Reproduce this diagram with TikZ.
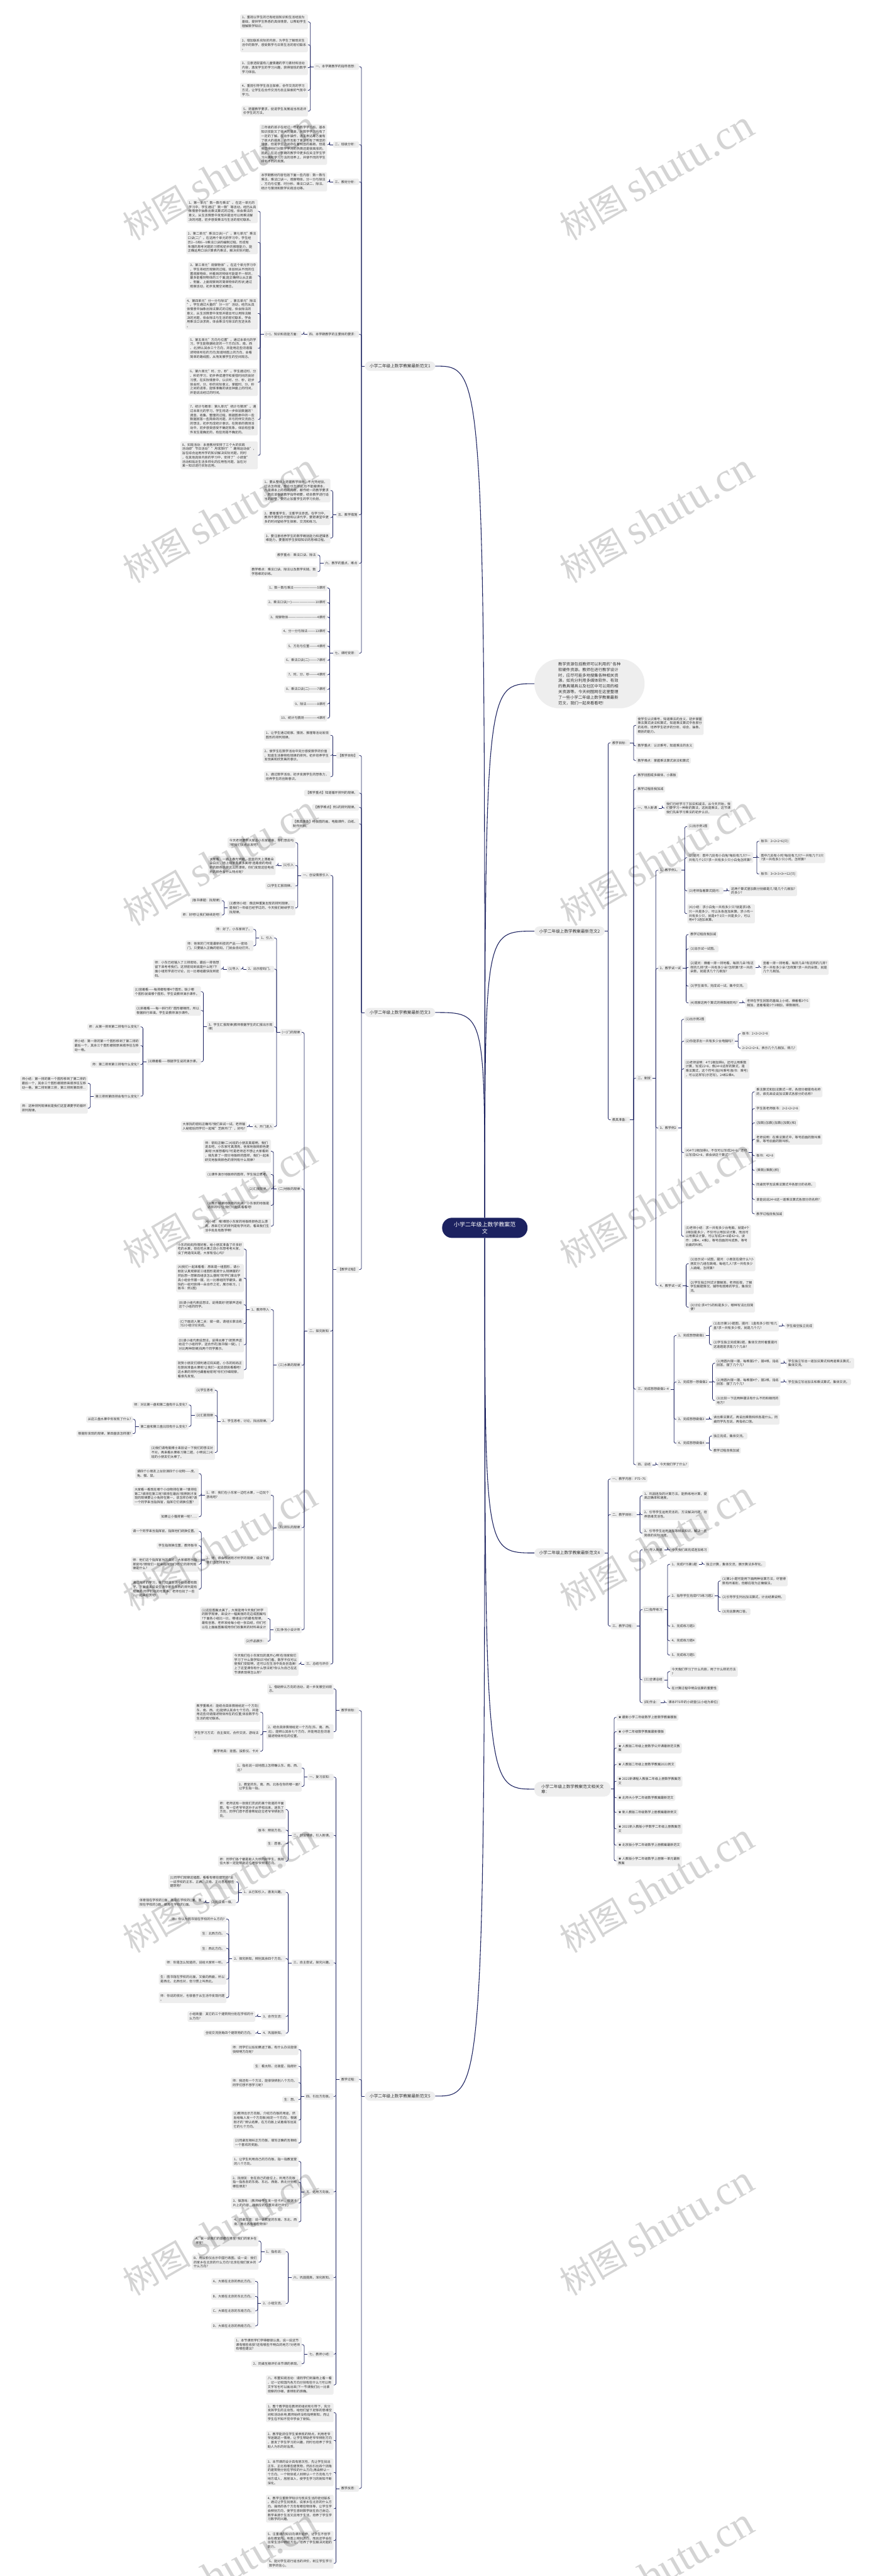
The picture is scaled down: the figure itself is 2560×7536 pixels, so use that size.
\documentclass[tikz,border=0pt]{standalone}
\usepackage{fontspec}
\setmainfont{Noto Sans CJK SC}
\newfontfamily\wmlat{Liberation Serif}
\usetikzlibrary{calc}
\definecolor{navy}{HTML}{1C2260}
\definecolor{boxg}{HTML}{EEEEEE}
\definecolor{txt}{HTML}{333333}
\newcommand{\nf}{\fontsize{9.4}{12.45}\selectfont}
\newcommand{\lf}{\fontsize{12.2}{16}\selectfont}
\tikzset{
 box/.style={rectangle,rounded corners=3.5pt,fill=boxg,text=txt,inner xsep=5pt,inner ysep=5pt,align=left,font=\nf},
 lvl/.style={rectangle,rounded corners=14pt,fill=boxg,text=txt,inner xsep=14pt,inner ysep=8pt,align=left,font=\lf},
 intro/.style={rectangle,rounded corners=72pt,fill=boxg,text=txt,inner xsep=70pt,inner ysep=8pt,minimum height=144pt,align=left,font=\fontsize{11.7}{16.4}\selectfont},
 rootn/.style={rectangle,rounded corners=29pt,fill=navy,text=white,minimum width=250pt,minimum height=59pt,align=center,font=\fontsize{16.4}{21.3}\selectfont},
 conn/.style={draw=navy,line width=1.4pt,rounded corners=5pt},
 rootc/.style={draw=navy,line width=2pt},
 wm/.style={rotate=30,text=black,opacity=0.17,inner sep=0pt}
}
\newcommand{\LN}[4]{%
 \path (#2.west) ++(-17pt,0pt) coordinate (p#1);
 \coordinate (q#1) at (0,#3);
 \node[box,anchor=east] (#1) at (p#1 |- q#1) {#4};}
\newcommand{\RN}[4]{%
 \path (#2.east) ++(17pt,0pt) coordinate (p#1);
 \coordinate (q#1) at (0,#3);
 \node[box,anchor=west] (#1) at (p#1 |- q#1) {#4};}
\newcommand{\LB}[2]{%
 \draw[conn] (#1.west) -- ++(-10pt,0pt) coordinate (b#1);
 \foreach \ch in {#2}{\draw[conn] (b#1) |- (\ch.east);}}
\newcommand{\RB}[2]{%
 \draw[conn] (#1.east) -- ++(10pt,0pt) coordinate (b#1);
 \foreach \ch in {#2}{\draw[conn] (b#1) |- (\ch.west);}}
\begin{document}
\begin{tikzpicture}[x=1pt,y=-1pt]
\fill[white] (0,0) rectangle (2560,7536);
\useasboundingbox (0,0) rectangle (2560,7536);

% root and first level
\node[rootn] (C) at (1419,3592) {小学二年级上数学教案范\\文};
\node[lvl,anchor=west] (L1) at (1068,1071) {小学二年级上数学教案最新范文1};
\node[lvl,anchor=west] (L2) at (1068,2962) {小学二年级上数学教案最新范文3};
\node[lvl,anchor=west] (L3) at (1068,6132) {小学二年级上数学教案最新范文5};
\node[intro,anchor=west] (R0) at (1564,2000) {教学资源包括教师可以利用的ˋ各种\\软硬件资源。教师在进行教学设计\\时，应尽可能多地搜集各种相关资\\源。如充分利用多媒体软件、有效\\的教具辅具以及社区中可以用的相\\关资源等。今天树图网在这里整理\\了一些小学二年级上数学教案最新\\范文，我们一起来看看吧!};
\node[lvl,anchor=west] (R1) at (1564,2724) {小学二年级上数学教案最新范文2};
\node[lvl,anchor=west] (R2) at (1564,4543) {小学二年级上数学教案最新范文4};
\node[lvl,anchor=west,rounded corners=18pt,inner xsep=20pt] (R3) at (1564,5234) {小学二年级上数学教案范文相关文\\章：};

\draw[rootc] (C.north) .. controls (C.north |- L1.east) .. (L1.east);
\draw[rootc] (C.north) .. controls (C.north |- R0.west) .. (R0.west);
\draw[rootc] (C.north) .. controls (C.north |- R1.west) .. (R1.west);
\draw[rootc] (C.north) .. controls (C.north |- L2.east) .. (L2.east);
\draw[rootc] (C.south) .. controls (C.south |- R2.west) .. (R2.west);
\draw[rootc] (C.south) .. controls (C.south |- R3.west) .. (R3.west);
\draw[rootc] (C.south) .. controls (C.south |- L3.east) .. (L3.east);

% ================= L1 =================
\LN{a1}{L1}{195}{一、本学期教学的指导思想：}
\LN{a11}{a1}{64}{1、重视以学生的已有经验知识和生活经验为\\基础，提供学生熟悉的具体情景，以帮助学生\\理解数学知识。}
\LN{a12}{a1}{131}{2、增加联系实际的内容，为学生了解现实生\\活中的数学，感受数学与日常生活的密切联系\\。}
\LN{a13}{a1}{198}{3、注意选取富有儿童情趣的学习素材和活动\\内容，激发学生的学习兴趣，获得愉悦的数学\\学习体验。}
\LN{a14}{a1}{264}{4、重视引导学生自主探索，合作交流的学习\\方式，让学生在合作交流与自主探索的气氛中\\学习。}
\LN{a15}{a1}{325}{5、把握教学要求，促进学生发展适当改进评\\价学生的方法。}
\LN{a2}{L1}{423}{二、班级分析：}
\LN{a21}{a2}{423}{二年级的孩子在经过一年的数学学习后，基本\\知识技能又了很大的提高，对数学学习也有了\\一定的了解。在动手操作，语言表达等方面有\\了很大的提高，合作互助了意识也有了明显的\\增强，但是学生之间存在着明显的差距。但是\\我觉得他们对数学学习的热情还是很高涨的。\\因此，在这一学期的教学中更多应关注学生学\\习兴趣和学习方法的培养上，并使不同的学生\\得到不同的发展。}
\LN{a3}{L1}{532}{三、教材分析：}
\LN{a31}{a3}{532}{本学期教材内容包括下面一些内容：数一数与\\乘法、乘法口诀一、观察物体、分一分与除法\\、方向与位置、时分秒、乘法口诀二、除法、\\统计与猜测和数学实践活动等。}
\LN{a4}{L1}{978}{四、本学期教学的主要目的要求：}
\LN{a41}{a4}{978}{(一)、知识和技能方面：}
\LN{a411}{a41}{618}{1、第一单元"数一数与乘法"。在这一单元的\\学习中，学生通过"数一数"等活动，经历从具\\体情景中抽象出乘法算式的过程，体会乘法的\\意义，从生活情景中发现并提出可以用乘法解\\决的问题，初步感受乘法与生活的密切联系。}
\LN{a412}{a41}{709}{2、第二单元"乘法口诀(一)"，第七单元"乘法\\口诀(二)"。在这两个单元的学习中，学生经\\历2—5和6—9乘法口诀的编制过程，形成有\\条理的思考问题的习惯和初步的推理能力，能\\正确运用口诀计算表内乘法，解决实际问题。}
\LN{a413}{a41}{807}{3、第三单元"观察物体"。在这个单元学习中\\，学生将经历观察的过程，体验到从不同的位\\置观察物体，所看到的物体可能是不一样的，\\最多能看到物体的三个面;能正确辨认从正面\\、侧面、上面观察到的简单物体的形状;通过\\观察活动，初步发展空间概念。}
\LN{a414}{a41}{917}{4、第四单元"分一分与除法"，第五单元"除法\\"。学生通过大量的"分一分"活动，经历从具\\体情景中抽象出除法算式的过程，体会除法的\\意义，从生活情景中发现并提出可以用除法解\\决的问题，体会除法与生活的密切联系，学会\\用乘法口诀求商，体会乘法与除法的互逆关系\\。}
\LN{a415}{a41}{1019}{5、第五单元"方向与位置"。通过本单元的学\\习，学生能根据给定的一个方向(东、南、西\\、北)辨认其余三个方向，并能用这些词语描\\述物体所在的方向;知道地图上的方向，会看\\简单的路线图，从而发展学生的空间观念。}
\LN{a416}{a41}{1118}{6、第六单元"时、分、秒"。学生通过时、分\\、秒的学习，初步养成遵守和爱惜时间的良好\\习惯，在实际情景中，认识时、分、秒，初步\\体会时、分、秒的实际意义，掌握时、分、秒\\之间的进率，能够准确的读出钟面上的时间，\\并能说出经过的时间。}
\LN{a417}{a41}{1227}{7、统计与概率：第九单元"统计与猜测"。通\\过本单元的学习，学生将进一步体验数据的ˋ\\调查、收集、整理的过程，根据图表中的一些\\数据回答一些简单的问题，并与同伴交流自己\\的想法，初步形成统计意识。在简单的猜测活\\动中，初步感受感受不确定现象，体验有些事\\件发生是确定的，有些则是不确定的。}
\LN{a418}{a41}{1332}{8、实践活动：本册教材安排了三个大的实践\\活动即"节日活动""月球旅行""趣味运动会"，\\旨在综合运用所学的知识解决实际问题。同时\\，在其他具体内容的学习中，安排了"小调查"\\活动和贴近生活多样化的应用性问题，旨在对\\某一知识进行实际应用。}
\LN{a5}{L1}{1506}{五、教学措施}
\LN{a51}{a5}{1435}{1、要从整体上把握教学目标，不光凭经验，\\过去怎样提，现在也怎样提;也不能搬课本，\\凡是课本上的有的内容，都作统一的教学要求\\，而应该根据教学指导纲要，结合教学进行适\\当的调整，要防止加重学生的学习负担。}
\LN{a52}{a5}{1514}{2、要尊重学生，注重学法渗透。在学习中，\\教师不要包办代替和以讲代学，要把课堂中更\\多的时间留给学生探索、交流和练习。}
\LN{a53}{a5}{1574}{3、要注意培养学生的数学概括能力和逻辑思\\维能力，要重视学生获取知识的思维过程。}
\LN{a6}{L1}{1648}{六、教学的重点、难点}
\LN{a61}{a6}{1624}{教学重点：乘法口诀、除法}
\LN{a62}{a6}{1672}{教学难点：乘法口诀、除法以及数学实践、数\\学思维的训练。}
\LN{a7}{L1}{1911}{七、课时安排：}
\LN{a71}{a7}{1720}{1、数一数与乘法—————————5课时}
\LN{a72}{a7}{1763}{2、乘法口诀(一)—————————10课时}
\LN{a73}{a7}{1805}{3、观察物体———————————4课时}
\LN{a74}{a7}{1847}{4、分一分与除法———13课时}
\LN{a75}{a7}{1890}{5、方向与位置———4课时}
\LN{a76}{a7}{1932}{6、乘法口诀(二)———7课时}
\LN{a77}{a7}{1974}{7、时、分、秒———4课时}
\LN{a78}{a7}{2017}{8、乘法口诀(二)———7课时}
\LN{a79}{a7}{2059}{9、除法————8课时}
\LN{a710}{a7}{2101}{10、统计与猜测—————4课时}
\LB{L1}{a1,a2,a3,a4,a5,a6,a7}
\LB{a1}{a11,a12,a13,a14,a15}
\LB{a2}{a21}
\LB{a3}{a31}
\LB{a4}{a41}
\LB{a41}{a411,a412,a413,a414,a415,a416,a417,a418}
\LB{a5}{a51,a52,a53}
\LB{a6}{a61,a62}
\LB{a7}{a71,a72,a73,a74,a75,a76,a77,a78,a79,a710}

% ================= L2 =================
\LN{b1}{L2}{2210}{【教学目标】}
\LN{b11}{b1}{2151}{1、让学生通过观察、猜测、推理等活动发现\\图形的排列规律。}
\LN{b12}{b1}{2210}{2、使学生在数学活动中充分感受数学的价值\\，知道生活事物有规律的排列，初步培养学生\\发现美和欣赏美的意识。}
\LN{b13}{b1}{2272}{3、通过数学活动，初步发展学生的想象力，\\培养学生的创新意识。}
\LN{b2}{L2}{2320}{【教学重点】知道循环排列的规律。}
\LN{b3}{L2}{2362}{【教学难点】例1的排列规律。}
\LN{b4}{L2}{2410}{【教具准备】地板图的画，电脑课件，白纸、\\制作材料。}
\LN{b5}{L2}{3714}{【教学过程】}
\LN{c1}{b5}{2561}{一、创设情景引入}
\LN{c11}{c1}{2465}{今天老师要带大家去小东家做客，你们想去吗\\?那我们快点出发吧?}
\LN{c12}{c1}{2532}{(1)引入}
\LN{c121}{c12}{2532}{大家看，一路上春光明媚，蓝蓝的天上漂着朵\\朵白云，地上绿草青青多美呀!连路旁的电线\\杆的颜色也是这么的漂亮，你们发现这些电线\\杆的颜色有什么特点呢?}
\LN{c13}{c1}{2592}{(2)学生汇报规律。}
\LN{c14}{c1}{2656}{(3)教师小结：像这种重复出现的排列规律，\\是我们一年级已经学过的，今天我们继续学习\\找规律。}
\LN{c141}{c14}{2635}{(板书课题：找规律)}
\LN{c142}{c14}{2677}{师：好吧!让我们继续走吧!}
\LN{c2}{b5}{3894}{二、探究新知}
\LN{d1}{c2}{3020}{(一)门的规律}
\LN{d11}{d1}{2744}{1、引入}
\LN{d111}{d11}{2719}{师：好了，小东家到了。}
\LN{d112}{d11}{2767}{师：他家的门可是最新科技的产品——密码\\门。只要输入正确的密码，门就会自动打开。}
\LN{d12}{d1}{2835}{2、出示密码门。}
\LN{d121}{d12}{2835}{(1)导入}
\LN{d1211}{d121}{2835}{师：小东已经输入了三排密码，最后一排他想\\留下来考考我们。这排密码到底是什么呢?下\\面小组同学进行讨论，比一比哪组最快找到密\\码。}
\LN{d13}{d1}{3004}{3、学生汇报规律(教师根据学生的汇报出示规\\律)}
\LN{d131}{d13}{2901}{(1)竖着看——每排都有哪4个图形，缺少哪\\个图形就填哪个图形。学生说教师演示课件。}
\LN{d132}{d13}{2956}{(2)斜着看——每一斜行的ˋ图形都相同，所以\\根据斜行来填。学生说教师演示课件。}
\LN{d133}{d13}{3106}{(3)横着看——根据学生说的演示课。}
\LN{d1331}{d133}{3004}{师：从第一排到第二排有什么变化?}
\LN{d1332}{d133}{3059}{师小结：第一排的第一个图形移到了第二排的\\最后一个，其余三个图形都按原来顺序往左移\\动一格。}
\LN{d1333}{d133}{3114}{师：第二排到第三排有什么变化?}
\LN{d1334}{d133}{3207}{第三排到第四排会有什么变化?}
\LN{d13341}{d1334}{3169}{师小结：第一排的第一个图形移到了第二排的\\最后一个，其余三个图形都按原来顺序往左移\\动一格，第二排到第三排，第三排到第四排...}
\LN{d13342}{d1334}{3242}{师：这种排列规律就是我们这堂课要学的循环\\排列规律。}
\LN{d14}{d1}{3296}{4、开门进入}
\LN{d141}{d14}{3296}{大家找的密码正确吗?我们来试一试。老师输\\入秘密后同学们一起喊"芝麻开门"，好吗?}
\LN{d2}{c2}{3478}{(二)地板的规律}
\LN{d21}{d2}{3368}{师：密码正确!二(4)班的小朋友真聪明，我们\\进去吧，小东家可真漂亮，他家地板砖颜色更\\美呢!大家想看吗?可是老师还不想让大家看到\\，我先拿了一部分地板砖的图样，我们一起来\\研究地板砖颜色的排列有什么规律?}
\LN{d22}{d2}{3436}{(1)课件演示地板砖的图样，学生独立思考。}
\LN{d23}{d2}{3478}{(2)汇报规律。}
\LN{d24}{d2}{3526}{(3)展示铺满地板砖的房间：小东家的地板是\\这样的吗?让我们一起去看看吧!}
\LN{d25}{d2}{3587}{(4)小结：哦!难怪小东家的地板砖颜色这么漂\\亮，原来它们的排列是有学问的，看来我们生\\活中处处有数学啊!}
\LN{d3}{c2}{3994}{(三)水果的规律}
\LN{d31}{d3}{3831}{1、教师导入}
\LN{d311}{d31}{3654}{小东的妈妈热情好客，给小朋友准备了许多好\\吃的水果，但在吃水果之前小东想考考大家，\\设了两道闯关题，大家有信心吗?}
\LN{d312}{d31}{3739}{(A)我们一起来看看：原来是一组图形，请小\\朋友认真观察前三组图形是按什么规律摆的?\\然后想一想第四组该怎么摆呢?同学们拿出学\\具小组合作摆一摆，比一比哪组同学最快，最\\快的一组可获得一朵合作之花，展示练习。(\\板书：例1图)}
\LN{d313}{d31}{3817}{(B)请小组代表说想法，说得真好!把掌声送给\\这个小组的同学。}
\LN{d314}{d31}{3872}{(C)下面进入第二关：做一做，请组长拿出练\\习2小组讨论完成。}
\LN{d315}{d31}{3934}{(D)请小组代表说想法，说得太棒了!把笑声送\\给这个小组同学，送合作花(板书做一做)。(\\对比两种规律)找两个同学展示。}
\LN{d316}{d31}{4007}{祝贺小朋友们顺利通过闯关题，小东的妈妈正\\在厨房准备水果呢!让我们一起去厨房看看吧!\\这水果的排列也藏着秘密呢?你们仔细观察，\\看谁先发现。}
\LN{d32}{d3}{4158}{2、学生思考，讨论，找出规律。}
\LN{d321}{d32}{4067}{(1)学生思考}
\LN{d322}{d32}{4141}{(2)汇报规律}
\LN{d3221}{d322}{4110}{师：对比第一盘和第二盘有什么变化?}
\LN{d3222}{d322}{4173}{第二盘和第三盘比较有什么变化?}
\LN{d32221}{d3222}{4152}{从这三盘水果中你发现了什么?}
\LN{d32222}{d3222}{4194}{根据你发现的规律，第四盘该怎样摆?}
\LN{d323}{d32}{4249}{(3)我们请电脑博士来验证一下我们的想法对\\不对。再来看水果练习第二题，小明说二(4)\\班的小朋友们太棒了。}
\LN{d4}{c2}{4469}{(四)排队的规律}
\LN{d41}{d4}{4374}{1、师：我们在小东家一边吃水果，一边玩个\\游戏吧?}
\LN{d411}{d41}{4311}{请四个小朋友上台扮演四个小动物——虎、\\兔、猫、鼠。}
\LN{d412}{d41}{4376}{大家看一看现在哪个小动物排在第一?谁排在\\第二?谁排在第三呢?谁排在最后?按照刚才发\\现的规律要让小兔排在第一，该怎样办呢?请\\一个同学来当指挥官，指挥它们调换位置?}
\LN{d413}{d41}{4437}{如果让小猫排第一呢?......}
\LN{d42}{d4}{4564}{2、师：谁会根据刚才所学的规律，说说下面\\他们该怎样变化?}
\LN{d421}{d42}{4480}{请一个同学来当指挥官，指挥他们调换位置。}
\LN{d422}{d42}{4522}{学生指挥换位置，教师板书}
\LN{d423}{d42}{4576}{师：他们这个指挥官当的真好，大家都想当指\\挥官吗?那我们一起来指挥他们吧!它的排列规\\律是什么?}
\LN{d424}{d42}{4649}{通过刚才的学习，我们知道生活中处处都有数\\学，下面谁来说说生活中那些东西的排列是有\\规律的.同学们找的可真多，老师也找了一些\\，一起来欣赏吧!}
\LN{d5}{c2}{4768}{(五)争当小设计师}
\LN{d51}{d5}{4735}{(1)这些图案太美了，大家能用今天我们所学\\的数学规律，来设计一幅美丽的花边或图案吗\\?下面各小组比一比，哪组设计的最有规律，\\最有创意。老师发给每小组一张白纸，你们可\\以在上面画图案或用你们收集到的材料来设计}
\LN{d52}{d5}{4801}{(2)作品展示：}
\LN{c3}{b5}{4868}{三、总结与评价}
\LN{c31}{c3}{4868}{今天我们在小东家玩的真开心啊!在他家我们\\学习了什么数学知识?你们看，数学不仅可以\\使我们变聪明，还可以在生活中处处创造美!\\上了这堂课你有什么想法呢?你认为自己在这\\节课表现得怎么样?}
\LB{L2}{b1,b2,b3,b4,b5}
\LB{b1}{b11,b12,b13}
\LB{b5}{c1,c2,c3}
\LB{c1}{c11,c12,c13,c14}
\LB{c12}{c121}
\LB{c14}{c141,c142}
\LB{c2}{d1,d2,d3,d4,d5}
\LB{d1}{d11,d12,d13,d14}
\LB{d11}{d111,d112}
\LB{d12}{d121}
\LB{d121}{d1211}
\LB{d13}{d131,d132,d133}
\LB{d133}{d1331,d1332,d1333,d1334}
\LB{d1334}{d13341,d13342}
\LB{d14}{d141}
\LB{d2}{d21,d22,d23,d24,d25}
\LB{d3}{d31,d32}
\LB{d31}{d311,d312,d313,d314,d315,d316}
\LB{d32}{d321,d322,d323}
\LB{d322}{d3221,d3222}
\LB{d3222}{d32221,d32222}
\LB{d4}{d41,d42}
\LB{d41}{d411,d412,d413}
\LB{d42}{d421,d422,d423,d424}
\LB{d5}{d51,d52}
\LB{c3}{c31}

% ================= L3 =================
\LN{e1}{L3}{5004}{教学目标：}
\LN{e11}{e1}{4941}{1、借助辨认方向的活动，进一步发展空间观\\念。}
\LN{e12}{e1}{5066}{2、结合具体情境给定一个方向(东、南、西、\\北)，能辨认其余七个方向，并能用这些词语\\描述物体所在的位置。}
\LN{e121}{e12}{5009}{教学重难点：能结合具体情境给定一个方向(\\东、南、西、北)能辨认其余七个方向，并能\\用这些词语描述物体所在的位置;体验数学与\\生活的密切联系。}
\LN{e122}{e12}{5075}{学生学习方式：自主探究、合作交流、游戏法\\。}
\LN{e123}{e12}{5123}{教学用具：挂图、投影仪、卡片}
\LN{e2}{L3}{6083}{教学过程：}
\LN{f1}{e2}{5199}{一、复习旧知：}
\LN{f11}{f1}{5172}{1、指名说一说地图上怎样确认东、南、西、\\北?}
\LN{f12}{f1}{5226}{2、教室的东、南、西、北各在你的哪一面?\\让学生指一指。}
\LN{f2}{e2}{5369}{二、创设情境，引入新课。}
\LN{f21}{f2}{5294}{师：老师这有一张我们灵武的某个街道的平面\\图，有一位老爷爷送孙子从学校出来，迷失了\\方向，同学们愿不愿意帮助这位老爷爷辨别方\\向。}
\LN{f22}{f2}{5354}{板书：辨别方向。}
\LN{f23}{f2}{5394}{生：愿意。}
\LN{f24}{f2}{5445}{师：同学们各个都是助人为乐的好学生，我相\\信大家一定能帮助这位老爷爷辨清方向。}
\LN{f3}{e2}{5742}{三、自主尝试，探究兴趣。}
\LN{f31}{f3}{5536}{1、从已知引入，激发兴趣。}
\LN{f311}{f31}{5505}{(1)同学们观察这幅图，看看有哪些建筑物?说\\一说学校的正东、正西、正南、正北各有哪些\\建筑物?}
\LN{f312}{f31}{5566}{(2)完成填一填。}
\LN{f3121}{f312}{5566}{体育馆在学校的()面，商店在学校的()面，医\\院在学校的()面，邮局在学校的()面。}
\LN{f32}{f3}{5730}{2、探究新知，辨别其余四个方向。}
\LN{f321}{f32}{5614}{师：你认为图书馆在学校的什么方向?}
\LN{f322}{f32}{5657}{生：北西方向。}
\LN{f323}{f32}{5700}{生：西北方向。}
\LN{f324}{f32}{5742}{师：你是怎么知道的，说给大家听一听。}
\LN{f325}{f32}{5790}{生：图书馆在学校的北面，又偏向西面，所以\\是西北、北西也对，但习惯上叫西北。}
\LN{f326}{f32}{5844}{师：你说的很对，也很善于从生活中发现问题\\。}
\LN{f33}{f3}{5899}{3、合作交流：}
\LN{f331}{f33}{5899}{小组商量：其它的三个建筑物分别在学校的什\\么方向?}
\LN{f34}{f3}{5948}{4、巩固新知。}
\LN{f341}{f34}{5948}{全班交流拐角四个建筑物的方向。}
\LN{f4}{e2}{6133}{四、引出方向板。}
\LN{f41}{f4}{5996}{师：同学们以后如果迷了路，有什么办法能很\\快辩明方向呢?}
\LN{f42}{f4}{6045}{生：看太阳、北极星、指南针}
\LN{f43}{f4}{6093}{师：我还有一个方法，能很快辨别八个方向，\\同学们想不想学习呢?}
\LN{f44}{f4}{6142}{生：想。}
\LN{f45}{f4}{6202}{(1)教师出示方向板，介绍方向板的用途，然\\后给每人发一个方向板(给定一个方向)，根据\\刚才的ˋ辨认结果，在方向板上试着填写出其\\它的七个方向。}
\LN{f46}{f4}{6269}{(2)同桌互相纠正方向板，填写正确的互相给\\一个喜欢的奖励。}
\LN{f5}{e2}{6412}{五、运用方向板。}
\LN{f51}{f5}{6323}{1、让学生利用自己的方向板，指一指教室里\\的八个方向。}
\LN{f52}{f5}{6384}{2、找朋友：坐在自己的座位上，利用方向板\\指一指各自的东南、东北、西南、西北分别有\\哪些朋友?}
\LN{f53}{f5}{6445}{3、做游戏：(教师给学生发一些卡片，根据卡\\片上的内容，找相应的位置并进行评价)}
\LN{f54}{f5}{6500}{4、同桌交流：说一说教室的东南、东北、西\\南、西北各有哪些物体?}
\LN{f6}{e2}{6663}{六、巩固提高，深化新知。}
\LN{f61}{f6}{6587}{1、指名说：}
\LN{f611}{f61}{6556}{A、说一说我们的首都在哪里?我们的家乡在\\哪里?}
\LN{f612}{f61}{6618}{B、用投影仪出示中国行政图。说一说：我们\\的家乡在北京的什么方向?北京在我们家乡的\\什么方向?}
\LN{f62}{f6}{6739}{2、小组交流。}
\LN{f621}{f62}{6674}{A、大致在北京的西北方向。}
\LN{f622}{f62}{6718}{B、大致在北京的东北方向。}
\LN{f623}{f62}{6760}{C、大致在北京的东南方向。}
\LN{f624}{f62}{6804}{D、大致在北京的西南方向。}
\LN{f7}{e2}{6887}{七、教师小结：}
\LN{f71}{f7}{6859}{1、本节课同学们学得都很认真，说一说这节\\课有哪些收获?还有哪些不明白的地方?对老师\\有哪些建议?}
\LN{f72}{f7}{6915}{2、同桌互相评价本节课的表现。}
\LN{f8}{e2}{6977}{八、布置实践活动：请同学们到操场上看一看\\，记一记校园内各方向分别有些什么?(可以用\\文字写也可以画出来)下一节课我们比一比谁\\观察的仔细，谁辨别的准确。}
\LN{e3}{L3}{7280}{教学反思：}
\LN{e31}{e3}{7058}{1、整个教学能在教师的组织和引导下，充分\\发挥学生的主动性，给他们留下足够的思维空\\间和活动余地;教师始终没有指明新知，而让\\学生在不知不觉中学会了新知。}
\LN{e32}{e3}{7139}{2、教学能抓住学生爱表现的特点，利用老爷\\爷迷路这一情境，让学生帮助老爷爷辨别方向\\，激发了学生学习的兴趣，同时也培养了学生\\助人为乐的好品质。}
\LN{e33}{e3}{7233}{3、本节课的设计具有层次性，先让学生找出\\正东、正北有哪些建筑物，然后引出四个拐角\\的建筑物分别在学校的什么方向;再由辨认一\\个方向、一个物体或人到辨认一个方向有几个\\地方或人，层层深入，使学生学习的新知不断\\深化。}
\LN{e34}{e3}{7339}{4、教学注重数学知识与现实生活的密切联系\\。通过让学生找朋友、说家乡在北京的什么方\\向、操场的各个方向有哪些物体等，让学生学\\会辨别方向，使学生感到数学就在自己身边，\\数学来源于生活又应用于生活，培养了学生学\\习数学的兴趣。}
\LN{e35}{e3}{7432}{5、注重课内知识向课外延伸，让学生不但学\\会在教室内、地图上辨别方向，而且还学会在\\日常生活中辨别方向，培养了学生解决问题的\\能力。}
\LN{e36}{e3}{7499}{6、能对学生进行适当的评价，树立学生学习\\数学的信心。}
\LB{L3}{e1,e2,e3}
\LB{e1}{e11,e12}
\LB{e12}{e121,e122,e123}
\LB{e2}{f1,f2,f3,f4,f5,f6,f7,f8}
\LB{f1}{f11,f12}
\LB{f2}{f21,f22,f23,f24}
\LB{f3}{f31,f32,f33,f34}
\LB{f31}{f311,f312}
\LB{f312}{f3121}
\LB{f32}{f321,f322,f323,f324,f325,f326}
\LB{f33}{f331}
\LB{f34}{f341}
\LB{f4}{f41,f42,f43,f44,f45,f46}
\LB{f5}{f51,f52,f53,f54}
\LB{f6}{f61,f62}
\LB{f61}{f611,f612}
\LB{f62}{f621,f622,f623,f624}
\LB{f7}{f71,f72}
\LB{e3}{e31,e32,e33,e34,e35,e36}

% ================= R1 =================
\RN{g1}{R1}{2173}{教学目标：}
\RN{g11}{g1}{2122}{使学生认识乘号，知道乘法的含义，初步掌握\\乘法算式读法和算式，知道乘法算式中各部分\\的名称，培养学生初步的分析、综合、抽象、\\概括的能力。}
\RN{g12}{g1}{2182}{教学重点：认识乘号，知道乘法的含义}
\RN{g13}{g1}{2225}{教学难点：掌握乘法算式读法和算式}
\RN{g2}{R1}{3276}{教具准备：}
\RN{g21}{g2}{2267}{教学挂图或多媒体，小黑板}
\RN{g22}{g2}{2309}{教学过程自我加减}
\RN{g23}{g2}{2364}{一、导入新课}
\RN{g231}{g23}{2364}{我们已经学习了加法和减法，从今天开始，我\\们要学习一种新的算法，这就是乘法，这节课\\我们先来学习乘法的初步认识。}
\RN{g24}{g2}{3154}{二、新授}
\RN{h1}{g24}{2546}{1、教学例1。}
\RN{h11}{h1}{2418}{(1)出示例1图}
\RN{h12}{h1}{2509}{(2)提问：图中几处有小白兔?每处有几只?一\\共有几个2只?求一共有多少只小白兔怎样算?}
\RN{h121}{h12}{2461}{板书：2+2+2=6(只)}
\RN{h122}{h12}{2509}{图中几处有小鸡?每处有几只?一共有几个3只\\?求一共有多少只小鸡，怎样算?}
\RN{h123}{h12}{2557}{板书：3+3+3+3+=12(只)}
\RN{h13}{h1}{2606}{(3)老师指着算式提问：}
\RN{h131}{h13}{2606}{这两个算式里加数分别都是几?是几个几相加?\\的多少?}
\RN{h14}{h1}{2673}{(4)小结：求小白兔一共有多少只?就是求3各\\只一共是多少，可以永各连加来算。求小鸡一\\共有多少只，就是4个3只一共是多少，可以\\用4个3连加来算。}
\RN{h2}{g24}{2833}{2、教学试一试}
\RN{h21}{h2}{2734}{教学过程自我加减}
\RN{h22}{h2}{2776}{(1)出示试一试图。}
\RN{h23}{h2}{2830}{(2)提问：横着一排一排地看，每排几朵?有这\\样的几排?求一共有多少朵?怎样算?求一共的\\朵数，就是求几个几相加?}
\RN{h231}{h23}{2830}{竖着一排一排地看，每排几朵?有这样的几排?\\求一共有多少朵?怎样算?求一共的朵数，就是\\几个几相加。}
\RN{h24}{h2}{2885}{(3)学生填书，完成试一试，集中交流。}
\RN{h25}{h2}{2934}{(4)观察这两个算式的得数相同吗?}
\RN{h251}{h25}{2934}{老师在学生回答的基础上小结，横着看3个5\\相加，竖着看是5个3相加，得数相同。}
\RN{h3}{g24}{3300}{3、教学例2}
\RN{h31}{h3}{2982}{(1)出示例2图}
\RN{h32}{h3}{3046}{(2)你能求出一共有多少台电脑吗?}
\RN{h321}{h32}{3024}{板书：2+2+2+2=8}
\RN{h322}{h32}{3066}{2+2+2+2=8，表示几个几相加，得几?}
\RN{h33}{h3}{3127}{(3)老师说明：4个2相加得8，还可以用乘数\\计算，写成22=8，像24=8这样的算式，是\\乘法算式，这个符号(指)叫乘号(板书：乘号)\\，可以这样写(示范写)，24和2乘4。}
\RN{h34}{h3}{3372}{(4)4个2相加得8，不仅可以写成24=8，还可\\以写成42=8，谁会读这个算式?}
\RN{h341}{h34}{3194}{乘法算式和加法算式一样，各部分都是有名称\\的，谁先来说说加法算式各部分的名称?}
\RN{h342}{h34}{3243}{学生答老师板书：2+2+2+2=8}
\RN{h343}{h34}{3285}{(加数)(加数)(加数)(加数)(和)}
\RN{h344}{h34}{3333}{老师说明：在乘法算式中，等号前面的数叫乘\\数，等号后面的数叫积。}
\RN{h345}{h34}{3381}{板书：42=8}
\RN{h346}{h34}{3424}{(乘数)(乘数)(积)}
\RN{h347}{h34}{3466}{同桌同学互说乘法算式中各部分的名称。}
\RN{h348}{h34}{3509}{谁能说说24=8这一道乘法算式各部分的名称?}
\RN{h349}{h34}{3551}{教学过程自我加减}
\RN{h35}{h3}{3617}{(5)老师小结：求一共有多少台电脑，就是4个\\2相加是多少，不仅可以用加法计算，而且可\\以用乘法计算，可以写成24=8或42=8，读\\作：2乘4，4乘2，等号前面的叫成熟，等号\\后面的叫积。}
\RN{h4}{g24}{3761}{4、教学试一试}
\RN{h41}{h4}{3697}{(1)出示试一试图，提问：小朋友在做什么?小\\朋友分几组在跳绳，每组几人?求一共有多少\\人跳绳，怎样算?}
\RN{h42}{h4}{3764}{(2)学生独立列式计算解答，老师巡视，了解\\学生解题情况，辅导有困难的学生，集体交\\流。}
\RN{h43}{h4}{3824}{(3)讨论:求4个5的和是多少，哪种写法比较简\\便?}
\RN{g25}{g2}{4064}{三、完成想想做做1\textasciitilde 4}
\RN{i1}{g25}{3907}{1、完成想想做做1}
\RN{i11}{i1}{3879}{(1)出示第1小题图，提问：1盒有多少枝?有几\\盒?求一共有多少枝，就是几个几?}
\RN{i111}{i11}{3879}{学生填空独立完成}
\RN{i12}{i1}{3934}{(2)学生独立完成第2题，集体交流时着重提问\\这道题是求是几个几朵?}
\RN{i2}{g25}{4043}{2、完成想一想做做2}
\RN{i21}{i2}{3988}{(1)用圆片摆一摆，每堆摆2个，摆4堆，指名\\回答，摆了几个几?}
\RN{i211}{i21}{3988}{学生独立写出一道加法算式和两道乘法算式，\\集体交流。}
\RN{i22}{i2}{4043}{(2)用圆片摆一摆，每堆摆4个，摆2堆，指名\\回答：摆了几个几?}
\RN{i221}{i22}{4043}{学生独立写出加法和乘法算式，集体交流。}
\RN{i23}{i2}{4097}{(3)比较一下这两种摆法有什么不同和相同的\\地方?}
\RN{i3}{g25}{4152}{3、完成想想做做3}
\RN{i31}{i3}{4152}{读出乘法算式，再说出乘数和积各是什么。同\\桌同学先互说，再指名口答。}
\RN{i4}{g25}{4222}{4、完成想想做做4}
\RN{i41}{i4}{4201}{独立完成，集体交流。}
\RN{i42}{i4}{4243}{教学过程自我加减}
\RN{g26}{g2}{4285}{四、总结}
\RN{g261}{g26}{4285}{今天我们学了什么?}
\RB{R1}{g1,g2}
\RB{g1}{g11,g12,g13}
\RB{g2}{g21,g22,g23,g24,g25,g26}
\RB{g23}{g231}
\RB{g24}{h1,h2,h3,h4}
\RB{h1}{h11,h12,h13,h14}
\RB{h12}{h121,h122,h123}
\RB{h13}{h131}
\RB{h2}{h21,h22,h23,h24,h25}
\RB{h23}{h231}
\RB{h25}{h251}
\RB{h3}{h31,h32,h33,h34,h35}
\RB{h32}{h321,h322}
\RB{h34}{h341,h342,h343,h344,h345,h346,h347,h348,h349}
\RB{h4}{h41,h42,h43}
\RB{g25}{i1,i2,i3,i4}
\RB{i1}{i11,i12}
\RB{i11}{i111}
\RB{i2}{i21,i22,i23}
\RB{i21}{i211}
\RB{i22}{i221}
\RB{i3}{i31}
\RB{i4}{i41,i42}
\RB{g26}{g261}

% ================= R2 =================
\RN{j1}{R2}{4327}{一、教学内容：P75\textasciitilde 76}
\RN{j2}{R2}{4431}{二、教学目标：}
\RN{j21}{j2}{4376}{1、巩固连及的计算方法，能熟练地计算，提\\高正确率和速度。}
\RN{j22}{j2}{4431}{2、引导学生运用灵活的，方法解决问题，培\\养思维灵活性。}
\RN{j23}{j2}{4485}{3、引导学生运用连加等相关知识，解决一些\\简单的实际问题。}
\RN{j3}{R2}{4757}{三、教学过程：}
\RN{j31}{j3}{4534}{(一)导入新课}
\RN{j311}{j31}{4534}{今天我们来完成连加练习}
\RN{j32}{j3}{4709}{(二)指导练习}
\RN{j321}{j32}{4576}{1、完成P75第1题}
\RN{j3211}{j321}{4576}{独立计算，集体交流，展示算法多样化。}
\RN{j322}{j32}{4669}{2、指导学生完成P75练习题2}
\RN{j3221}{j322}{4625}{(1)第1小题可能用下面两种估算方法，尽管得\\数有所差别，但都应视为正确做法。}
\RN{j3222}{j322}{4673}{(2)引导学生列出加法算式，计出结果说明。}
\RN{j3223}{j322}{4715}{(3)先估算再口答。}
\RN{j323}{j32}{4757}{3、完成练习题3}
\RN{j324}{j32}{4800}{4、完成练习题4}
\RN{j325}{j32}{4842}{5、完成练习题5}
\RN{j33}{j3}{4914}{(三)全课总结}
\RN{j331}{j33}{4890}{今天我们学习了什么内容，用了什么样的方法\\?}
\RN{j332}{j33}{4939}{在计算过程中明白估算的重要性}
\RN{j34}{j3}{4981}{(四)作业：}
\RN{j341}{j34}{4981}{课本P76中的小调查(以小组为单位)}
\RB{R2}{j1,j2,j3}
\RB{j2}{j21,j22,j23}
\RB{j3}{j31,j32,j33,j34}
\RB{j31}{j311}
\RB{j32}{j321,j322,j323,j324,j325}
\RB{j321}{j3211}
\RB{j322}{j3221,j3222,j3223}
\RB{j33}{j331,j332}
\RB{j34}{j341}

% ================= R3 =================
\RN{k1}{R3}{5024}{★ 最新小学二年级数学上册数学教案模板}
\RN{k2}{R3}{5066}{★ 小学二年级数学教案最新模板}
\RN{k3}{R3}{5114}{★ 人教版二年级上册数学公开课最新范文教\\案}
\RN{k4}{R3}{5162}{★ 人教版二年级上册数学教案2021例文}
\RN{k5}{R3}{5211}{★ 2021新课程人教版二年级上册数学教案范\\文}
\RN{k6}{R3}{5259}{★ 北师大小学二年级数学教案最新范文}
\RN{k7}{R3}{5302}{★ 新人教版二年级数学上册教案最新例文}
\RN{k8}{R3}{5350}{★ 2021新人教版小学数学二年级上册教案范\\文}
\RN{k9}{R3}{5398}{★ 北京版小学二年级数学上册教案最新范文}
\RN{k10}{R3}{5444}{★ 人教版小学二年级数学上册第一单元最新\\教案}
\RB{R3}{k1,k2,k3,k4,k5,k6,k7,k8,k9,k10}

% ================= watermark =================
\foreach \yy in {515,1517,2519,3521,4523,5525,6527,7529}{
 \node[wm] at (644,\yy) {\fontsize{100}{100}\selectfont 树图 {\wmlat\fontsize{122}{122}\selectfont shutu.cn}};
 \node[wm] at (1922,\yy) {\fontsize{100}{100}\selectfont 树图 {\wmlat\fontsize{122}{122}\selectfont shutu.cn}};
}
\end{tikzpicture}
\end{document}
